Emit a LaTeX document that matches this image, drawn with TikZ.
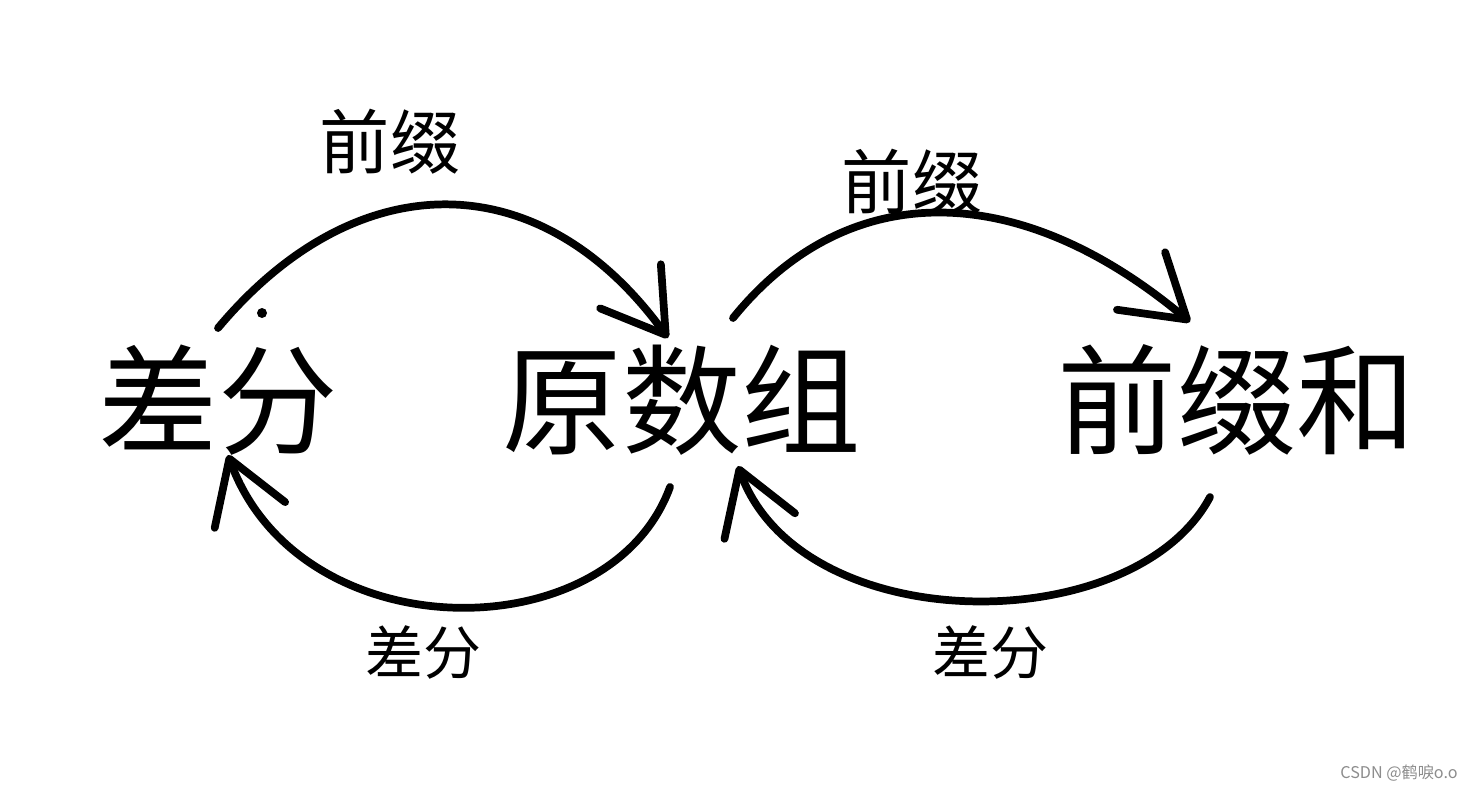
\documentclass[tikz,border=0pt]{standalone}
\usepackage{fontspec}
\setmainfont{Noto Sans CJK SC}
\usetikzlibrary{arrows.meta,calc}

\begin{document}
\begin{tikzpicture}[
  big/.style={inner sep=0pt, font=\fontsize{34}{40}\selectfont},
  lbl/.style={inner sep=0pt, font=\fontsize{20}{24}\selectfont},
  pen/.style={line width=2.2pt, line cap=round, line join=round,
    -{Straight Barb[length=6mm,width=7.5mm,round]}}
]
  \useasboundingbox (0,0) rectangle (14.62,7.90);

  % The three arrays
  \node[big] (dif) at (2.18,3.90) {差分};
  \node[big] (orig) at (6.82,3.90) {原数组};
  \node[big] (pre) at (12.37,3.90) {前缀和};

  % Labels on the strokes
  \node[lbl] (l1) at (3.90,6.48) {前缀};
  \node[lbl] (l2) at (9.12,6.08) {前缀};
  \node[lbl, font=\fontsize{16.5}{20}\selectfont] (l3) at (4.23,1.38) {差分};
  \node[lbl, font=\fontsize{16.5}{20}\selectfont] (l4) at (9.90,1.38) {差分};

  % Stroke ends
  \coordinate (a1s) at ($(dif)+(0,0.72)$);
  \coordinate (a1e) at ($(orig)+(-0.14,0.62)$);
  \coordinate (a2s) at ($(orig)+(0.51,0.82)$);
  \coordinate (a2e) at ($(pre)+(-0.47,0.78)$);
  \coordinate (a3s) at ($(orig)+(-0.12,-0.87)$);
  \coordinate (a3e) at ($(dif)+(0.10,-0.55)$);
  \coordinate (a4s) at ($(pre)+(-0.27,-0.97)$);
  \coordinate (a4e) at ($(orig)+(0.56,-0.66)$);

  % Hand-drawn arrows
  \draw[pen] (a1s) .. controls +(1.39,1.66) and +(-1.27,1.75) .. (a1e);
  \draw[pen] (a2s) .. controls +(1.14,1.41) and +(-1.72,1.44) .. (a2e);
  \draw[pen] (a3s) .. controls +(-0.60,-1.65) and +(0.72,-1.97) .. (a3e);
  \draw[pen] (a4s) .. controls +(-0.76,-1.43) and +(0.63,-1.74) .. (a4e);
  \fill ($(dif)+(0.44,0.87)$) circle (0.05);

  % Watermark
  \node[inner sep=0pt, text=black!45, font=\fontsize{4.6}{5.5}\selectfont] (wm) at (13.99,0.17) {CSDN @鹤唳o.o};
\end{tikzpicture}
\end{document}
